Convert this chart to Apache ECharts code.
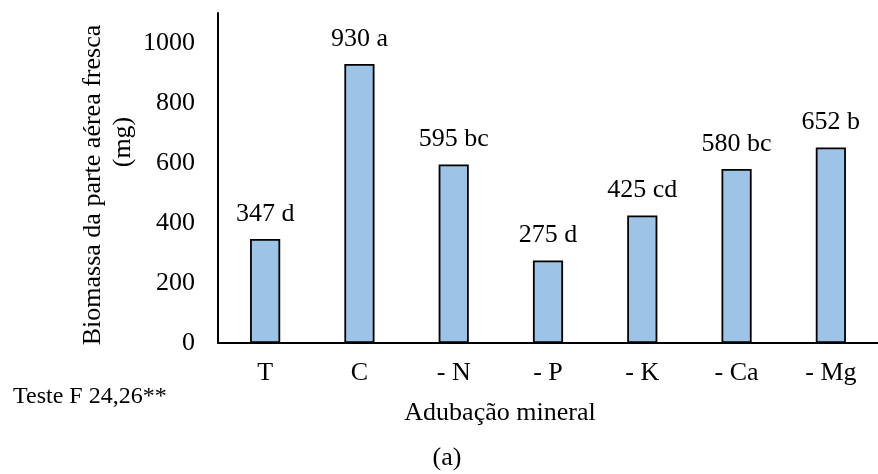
<!DOCTYPE html>
<html>
<head>
<meta charset="utf-8">
<script src="https://cdn.jsdelivr.net/npm/echarts@6/dist/echarts.min.js"></script>
<style>
  html, body { margin: 0; padding: 0; background: #fff; }
  #chart { width: 878px; height: 474px; }
</style>
</head>
<body>
<div id="chart"></div>
<script>
// Fresh shoot biomass by mineral fertilisation treatment
const categories = ['T', 'C', '- N', '- P', '- K', '- Ca', '- Mg'];
const biomass = [347, 930, 595, 275, 425, 580, 652];
const letters = ['d', 'a', 'bc', 'd', 'cd', 'bc', 'b'];
const yTicks = [0, 200, 400, 600, 800, 1000];

const FONT = '"Liberation Serif", "Times New Roman", serif';
const chart = echarts.init(document.getElementById('chart'));

chart.setOption({
  animation: false,
  backgroundColor: '#ffffff',
  grid: { left: 218, right: -10, top: 13, bottom: 131, containLabel: false },
  xAxis: {
    type: 'category',
    data: categories,
    axisLine: { lineStyle: { color: '#000', width: 2 } },
    axisTick: { show: false },
    axisLabel: { color: '#000', fontFamily: FONT, fontSize: 26, margin: 17 }
  },
  yAxis: {
    type: 'value',
    min: 0,
    max: 1100,
    interval: 200,
    axisLine: { show: true, lineStyle: { color: '#000', width: 2 } },
    axisTick: { show: false },
    splitLine: { show: false },
    axisLabel: {
      color: '#000', fontFamily: FONT, fontSize: 26, margin: 23,
      formatter: v => (yTicks.includes(v) ? String(v) : '')
    }
  },
  series: [{
    type: 'bar',
    data: biomass,
    barWidth: '32%',
    itemStyle: { color: '#9DC3E6', borderColor: '#000', borderWidth: 1.8 },
    label: {
      show: true,
      position: 'top',
      distance: 12,
      color: '#000',
      fontFamily: FONT,
      fontSize: 26,
      formatter: p => p.value + ' ' + letters[p.dataIndex]
    }
  }],
  graphic: [
    {
      type: 'text', x: 93, y: 185, rotation: Math.PI / 2,
      style: { text: 'Biomassa da parte aérea fresca', font: '26px ' + FONT, fill: '#000', align: 'center', verticalAlign: 'middle' }
    },
    {
      type: 'text', x: 123, y: 142, rotation: Math.PI / 2,
      style: { text: '(mg)', font: '26px ' + FONT, fill: '#000', align: 'center', verticalAlign: 'middle' }
    },
    {
      type: 'text', x: 500, y: 413,
      style: { text: 'Adubação mineral', font: '26px ' + FONT, fill: '#000', align: 'center', verticalAlign: 'middle' }
    },
    {
      type: 'text', x: 13, y: 397,
      style: { text: 'Teste F 24,26**', font: '24px ' + FONT, fill: '#000', align: 'left', verticalAlign: 'middle' }
    },
    {
      type: 'text', x: 447, y: 458,
      style: { text: '(a)', font: '26px ' + FONT, fill: '#000', align: 'center', verticalAlign: 'middle' }
    }
  ]
});
</script>
</body>
</html>
